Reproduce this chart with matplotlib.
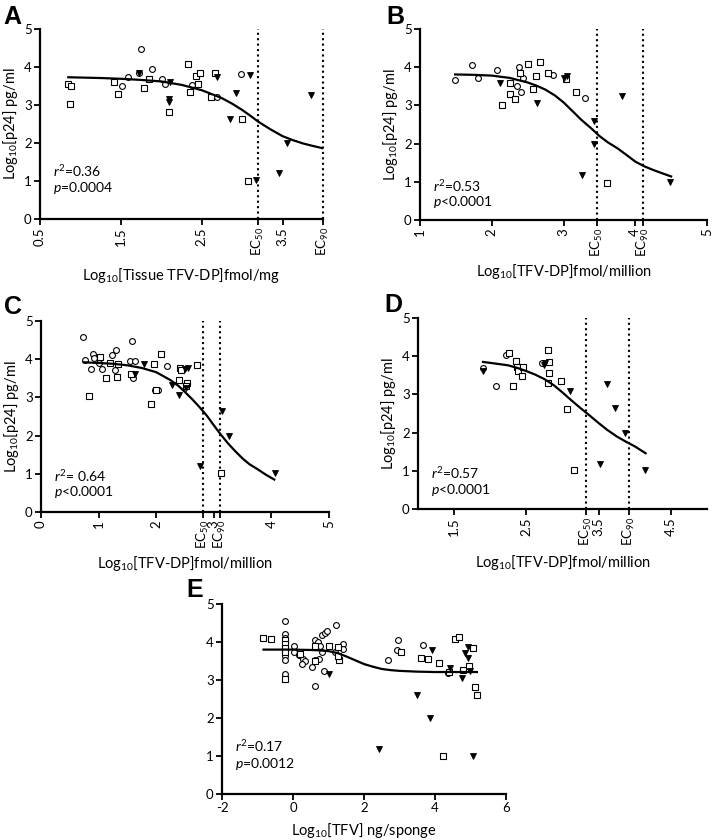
import matplotlib
matplotlib.use("Agg")
import matplotlib.pyplot as plt

plt.rcParams["font.family"] = ["Lato", "DejaVu Sans"]
plt.rcParams["mathtext.fontset"] = "custom"
plt.rcParams["mathtext.rm"] = "Lato"
plt.rcParams["mathtext.it"] = "Lato:italic"

# ---- panel A: tissue TFV-DP ----
a_circ_x = [1.75, 1.51, 1.59, 1.73, 1.89, 2.01, 2.05, 2.38, 2.69, 2.98]
a_circ_y = [4.47, 3.50, 3.74, 3.84, 3.94, 3.69, 3.54, 3.52, 3.21, 3.82]
a_sq_x = [0.85, 0.88, 0.87, 1.41, 1.47, 1.79, 1.85, 2.10, 2.33, 2.35, 2.43, 2.46, 2.48, 2.62, 2.67, 3.00, 3.07]
a_sq_y = [3.55, 3.50, 3.03, 3.60, 3.28, 3.46, 3.69, 2.82, 4.07, 3.34, 3.76, 3.54, 3.84, 3.20, 3.85, 2.62, 1.01]
a_tri_x = [1.73, 2.11, 2.09, 2.09, 2.69, 2.85, 2.92, 3.10, 3.17, 3.46, 3.55, 3.85]
a_tri_y = [3.85, 3.61, 3.15, 3.08, 3.73, 2.64, 3.31, 3.78, 1.03, 1.20, 1.99, 3.27]
a_fit_x = [0.85, 1.25, 1.5, 1.75, 2.0, 2.25, 2.5, 2.62, 2.75, 2.88, 3.0, 3.1, 3.2, 3.35, 3.5, 3.62, 3.75, 3.88, 4.0]
a_fit_y = [3.73, 3.71, 3.69, 3.66, 3.62, 3.53, 3.39, 3.29, 3.18, 3.03, 2.87, 2.72, 2.56, 2.36, 2.18, 2.08, 1.99, 1.92, 1.86]
a_ticks = [0.5, 1.5, 2.5, 3.2, 3.5, 4.0]
a_ticklabels = ["0.5", "1.5", "2.5", "EC$_{50}$", "3.5", "EC$_{90}$"]

# ---- panel B ----
b_circ_x = [1.49, 1.72, 1.81, 2.07, 2.38, 2.43, 2.35, 2.41, 2.85, 3.30]
b_circ_y = [3.67, 4.07, 3.73, 3.93, 4.00, 3.71, 3.51, 3.34, 3.79, 3.19]
b_sq_x = [2.14, 2.25, 2.26, 2.33, 2.39, 2.50, 2.58, 2.61, 2.67, 2.78, 3.04, 3.18, 3.60]
b_sq_y = [3.02, 3.29, 3.58, 3.18, 3.85, 4.08, 3.44, 3.77, 4.13, 3.84, 3.69, 3.34, 0.98]
b_tri_x = [2.12, 2.63, 3.00, 3.05, 3.26, 3.42, 3.42, 3.81, 4.49]
b_tri_y = [3.58, 3.06, 3.72, 3.76, 1.17, 1.98, 2.60, 3.25, 1.00]
b_fit_x = [1.49, 1.75, 2.0, 2.25, 2.5, 2.62, 2.75, 2.88, 3.0, 3.12, 3.25, 3.38, 3.5, 3.62, 3.75, 3.88, 4.0, 4.12, 4.25, 4.38, 4.5]
b_fit_y = [3.81, 3.80, 3.78, 3.72, 3.60, 3.52, 3.41, 3.26, 3.08, 2.86, 2.62, 2.41, 2.20, 2.03, 1.88, 1.70, 1.53, 1.41, 1.31, 1.22, 1.14]
b_ticks = [1, 2, 3, 3.46, 4, 4.11, 5]
b_ticklabels = ["1", "2", "3", "EC$_{50}$", "4", "EC$_{90}$", "5"]

# ---- panel C ----
c_circ_x = [0.73, 0.76, 0.86, 0.91, 0.92, 1.01, 1.06, 1.24, 1.31, 1.29, 1.54, 1.58, 1.60, 1.64, 1.98, 2.03, 2.18]
c_circ_y = [4.57, 3.99, 3.74, 4.13, 4.03, 3.90, 3.75, 4.10, 4.23, 3.71, 3.95, 4.48, 3.52, 3.95, 3.20, 3.20, 3.81]
c_sq_x = [0.83, 1.02, 1.12, 1.20, 1.32, 1.34, 1.56, 1.91, 1.97, 2.09, 2.00, 2.39, 2.42, 2.43, 2.54, 2.52, 2.70, 3.12]
c_sq_y = [3.03, 4.07, 3.50, 3.90, 3.53, 3.87, 3.60, 2.83, 3.87, 4.14, 3.20, 3.46, 3.78, 3.71, 3.38, 3.31, 3.85, 1.02]
c_tri_x = [1.79, 1.64, 2.27, 2.39, 2.50, 2.55, 2.52, 2.76, 3.14, 3.27, 4.07]
c_tri_y = [3.88, 3.60, 3.32, 3.06, 3.75, 3.78, 3.25, 1.20, 2.64, 1.99, 1.02]
c_fit_x = [0.74, 1.0, 1.25, 1.5, 1.75, 2.0, 2.12, 2.25, 2.38, 2.5, 2.62, 2.75, 2.88, 3.0, 3.12, 3.25, 3.38, 3.5, 3.62, 3.75, 3.9, 4.05]
c_fit_y = [3.92, 3.90, 3.88, 3.84, 3.77, 3.66, 3.56, 3.45, 3.31, 3.14, 2.96, 2.75, 2.52, 2.27, 2.03, 1.79, 1.58, 1.40, 1.25, 1.13, 0.98, 0.85]
c_ticks = [0, 1, 2, 2.82, 3, 3.11, 4, 5]
c_ticklabels = ["0", "1", "2", "EC$_{50}$", "3", "EC$_{90}$", "4", "5"]

# ---- panel D ----
d_circ_x = [1.90, 2.08, 2.22, 2.71]
d_circ_y = [3.70, 3.21, 4.03, 3.83]
d_sq_x = [2.26, 2.35, 2.37, 2.39, 2.44, 2.45, 2.31, 2.80, 2.81, 2.81, 2.80, 2.98, 3.06, 3.16]
d_sq_y = [4.09, 3.87, 3.73, 3.61, 3.48, 3.71, 3.21, 4.15, 3.86, 3.55, 3.29, 3.36, 2.63, 1.02]
d_tri_x = [1.90, 2.75, 2.76, 3.11, 3.52, 3.61, 3.72, 3.86, 4.14]
d_tri_y = [3.62, 3.76, 3.82, 3.10, 1.18, 3.28, 2.65, 2.00, 1.03]
d_fit_x = [1.90, 2.1, 2.25, 2.38, 2.5, 2.62, 2.75, 2.88, 3.0, 3.12, 3.25, 3.38, 3.5, 3.62, 3.75, 3.88, 4.0, 4.15]
d_fit_y = [3.85, 3.80, 3.76, 3.69, 3.61, 3.52, 3.40, 3.24, 3.05, 2.85, 2.64, 2.44, 2.25, 2.07, 1.90, 1.76, 1.64, 1.46]
d_ticks = [1.5, 2.5, 3.32, 3.5, 3.92, 4.5]
d_ticklabels = ["1.5", "2.5", "EC$_{50}$", "3.5", "EC$_{90}$", "4.5"]

# ---- panel E: TFV in sponge ----
e_circ_x = [-0.22, -0.22, -0.22, -0.22, -0.22, -0.22, -0.22, -0.22, -0.22, -0.22,
            0.04, 0.04, 0.18, 0.27, 0.35, 0.25, 0.53, 0.63, 0.72, 0.61, 0.70, 0.82,
            0.91, 0.96, 1.22, 0.87, 0.63, 0.76, 0.82, 1.42, 1.42, 1.19,
            2.69, 2.97, 2.94, 3.67, 4.38]
e_circ_y = [4.54, 4.22, 4.10, 4.00, 3.90, 3.82, 3.72, 3.62, 3.52, 3.16,
            3.90, 3.73, 3.66, 3.55, 3.49, 3.42, 3.34, 3.53, 3.55, 4.06, 3.99, 4.19,
            4.24, 4.29, 4.46, 3.25, 2.84, 3.90, 3.75, 3.95, 3.81, 3.75,
            3.53, 4.06, 3.80, 3.93, 3.18]
e_sq_x = [-0.84, -0.62, -0.22, -0.22, -0.22, -0.22, -0.22, 0.21, 0.61, 0.63, 1.02,
          1.27, 1.30, 1.27, 3.04, 3.60, 3.81, 4.10, 4.40, 4.57, 4.69, 5.08, 4.80,
          4.97, 5.13, 5.18, 4.22]
e_sq_y = [4.11, 4.09, 4.05, 3.95, 3.85, 3.75, 3.02, 3.68, 3.90, 3.49, 3.90,
          3.87, 3.53, 3.62, 3.75, 3.59, 3.55, 3.46, 3.20, 4.08, 4.13, 3.84, 3.27,
          3.36, 2.81, 2.61, 1.00]
e_tri_x = [1.00, 3.91, 3.49, 4.41, 4.75, 4.85, 4.94, 4.92, 4.99, 2.43, 3.85, 5.07]
e_tri_y = [3.16, 3.78, 2.61, 3.31, 3.05, 3.72, 3.87, 3.58, 3.25, 1.19, 1.99, 1.01]
e_fit_x = [-0.83, 0.0, 0.5, 0.75, 1.0, 1.25, 1.5, 1.75, 2.0, 2.25, 2.5, 2.75, 3.0, 3.5, 4.0, 5.18]
e_fit_y = [3.80, 3.80, 3.79, 3.78, 3.76, 3.71, 3.62, 3.52, 3.42, 3.35, 3.29, 3.26, 3.24, 3.22, 3.21, 3.21]
e_ticks = [-2, 0, 2, 4, 6]

FIG_W, FIG_H = 714, 840


def _axes_at(fig, left, right, top, bottom):
    return fig.add_axes([left / FIG_W, 1 - bottom / FIG_H,
                         (right - left) / FIG_W, (bottom - top) / FIG_H])


def _scatter(ax, cx, cy, sx, sy, tx, ty, fx, fy):
    ax.plot(cx, cy, "o", ms=4.2, mfc="white", mec="black", mew=0.8, zorder=3)
    ax.plot(sx, sy, "s", ms=4.6, mfc="white", mec="black", mew=0.8, zorder=3)
    ax.plot(tx, ty, "v", ms=4.6, mfc="black", mec="black", mew=0.6, zorder=4)
    ax.plot(fx, fy, "-", color="black", lw=1.6, zorder=5, solid_joinstyle="round")


def _style(ax, xlim, ticks, ticklabels, rotate, ec=None):
    ax.set_xlim(*xlim)
    ax.set_ylim(0, 5)
    ax.set_yticks([0, 1, 2, 3, 4, 5])
    ax.set_xticks(ticks)
    ax.set_xticklabels(ticklabels, rotation=90 if rotate else 0)
    for side in ("top", "right"):
        ax.spines[side].set_visible(False)
    for side in ("left", "bottom"):
        ax.spines[side].set_linewidth(1.6)
    ax.tick_params(direction="out", length=4, width=1.3, labelsize=9.5, pad=2)
    if ec:
        for v in ec:
            ax.axvline(v, color="black", lw=1.5, ls=(0, (1, 1.6)), zorder=2, clip_on=False)


def _stats(ax, r2, p, ry, py):
    ax.text(0.045, ry, "$r^2$" + r2, transform=ax.transAxes, fontsize=10, va="center")
    ax.text(0.045, py, "$p$" + p, transform=ax.transAxes, fontsize=10, va="center")


fig = plt.figure(figsize=(FIG_W / 100, FIG_H / 100), dpi=100)
ylab = "Log$_{10}$[p24] pg/ml"
xlab_dp = "Log$_{10}$[TFV-DP]fmol/million"

ax_a = _axes_at(fig, 40, 323, 29, 219)
_scatter(ax_a, a_circ_x, a_circ_y, a_sq_x, a_sq_y, a_tri_x, a_tri_y, a_fit_x, a_fit_y)
_style(ax_a, (0.5, 4.0), a_ticks, a_ticklabels, True, ec=[3.2, 4.0])
ax_a.set_xlabel("Log$_{10}$[Tissue TFV-DP]fmol/mg", fontsize=10.5, labelpad=7)
ax_a.set_ylabel(ylab, fontsize=10.5, labelpad=3)
_stats(ax_a, "=0.36", "=0.0004", 0.25, 0.165)

ax_b = _axes_at(fig, 420, 707, 29, 220)
_scatter(ax_b, b_circ_x, b_circ_y, b_sq_x, b_sq_y, b_tri_x, b_tri_y, b_fit_x, b_fit_y)
_style(ax_b, (1, 5), b_ticks, b_ticklabels, True, ec=[3.46, 4.11])
ax_b.set_xlabel(xlab_dp, fontsize=10.5, labelpad=3)
ax_b.set_ylabel(ylab, fontsize=10.5, labelpad=3)
_stats(ax_b, "=0.53", "<0.0001", 0.18, 0.095)

ax_c = _axes_at(fig, 41, 329, 321, 512)
_scatter(ax_c, c_circ_x, c_circ_y, c_sq_x, c_sq_y, c_tri_x, c_tri_y, c_fit_x, c_fit_y)
_style(ax_c, (0, 5), c_ticks, c_ticklabels, True, ec=[2.82, 3.11])
ax_c.set_xlabel(xlab_dp, fontsize=10.5, labelpad=3)
ax_c.set_ylabel(ylab, fontsize=10.5, labelpad=3)
_stats(ax_c, "= 0.64", "<0.0001", 0.19, 0.105)

ax_d = _axes_at(fig, 418, 707, 318, 509)
_scatter(ax_d, d_circ_x, d_circ_y, d_sq_x, d_sq_y, d_tri_x, d_tri_y, d_fit_x, d_fit_y)
_style(ax_d, (1, 5), d_ticks, d_ticklabels, True, ec=[3.32, 3.92])
ax_d.set_xlabel(xlab_dp, fontsize=10.5, labelpad=5)
ax_d.set_ylabel(ylab, fontsize=10.5, labelpad=3)
_stats(ax_d, "=0.57", "<0.0001", 0.19, 0.10)

ax_e = _axes_at(fig, 222, 506, 604, 794)
_scatter(ax_e, e_circ_x, e_circ_y, e_sq_x, e_sq_y, e_tri_x, e_tri_y, e_fit_x, e_fit_y)
_style(ax_e, (-2, 6), e_ticks, [str(t) for t in e_ticks], False)
ax_e.set_xlabel("Log$_{10}$[TFV] ng/sponge", fontsize=10.5, labelpad=5)
_stats(ax_e, "=0.17", "=0.0012", 0.25, 0.16)

for letter, x, y in [("A", 3, 5), ("B", 386, 5), ("C", 4, 295), ("D", 384, 293), ("E", 186, 578)]:
    fig.text(x / FIG_W, 1 - y / FIG_H, letter, fontsize=18, fontweight="bold",
             va="top", ha="left", family=["Liberation Sans", "DejaVu Sans"])

fig.savefig("out.png", dpi=100)
